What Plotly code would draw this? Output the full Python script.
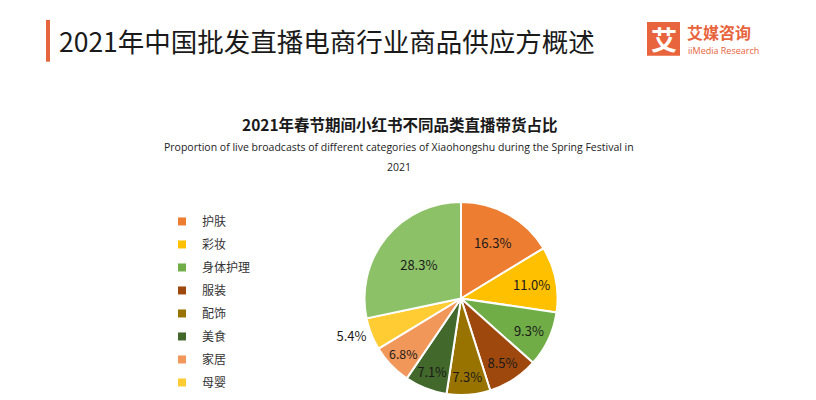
import plotly.graph_objects as go

# ---- data ----
categories = ["护肤", "彩妆", "身体护理", "服装", "配饰", "美食", "家居", "母婴", "其他"]
shares = [16.3, 11.0, 9.3, 8.5, 7.3, 7.1, 6.8, 5.4, 28.3]
legend_items = ["护肤", "彩妆", "身体护理", "服装", "配饰", "美食", "家居", "母婴"]
colors = ["#ED7D31", "#FFC000", "#70AD47", "#9E480E", "#997300",
          "#43682B", "#F1975A", "#FFCD33", "#8CC168"]
text_positions = ["inside"] * 7 + ["outside", "inside"]

main_title = "2021年中国批发直播电商行业商品供应方概述"
chart_title = "2021年春节期间小红书不同品类直播带货占比"
chart_subtitle_1 = "Proportion of live broadcasts of different categories of Xiaohongshu during the Spring Festival in"
chart_subtitle_2 = "2021"

CJK = "Noto Sans CJK SC"
W, H = 816, 400

fig = go.Figure()

cx, cy, r = 461, 300, 97
fig.add_trace(go.Pie(
    labels=categories, values=shares, sort=False, direction="clockwise",
    rotation=0,
    marker=dict(colors=colors, line=dict(color="white", width=2)),
    texttemplate="%{value:.1f}%", textposition=text_positions,
    insidetextorientation="horizontal",
    textfont=dict(family=CJK, size=13, color="#1a1a1a"),
    showlegend=False, hoverinfo="label+percent",
    domain=dict(x=[(cx - r) / W, (cx + r) / W], y=[1 - (cy + r) / H, 1 - (cy - r) / H]),
))

for i, name in enumerate(legend_items):
    fig.add_trace(go.Scatter(
        x=[None], y=[None], mode="markers", name=name,
        marker=dict(symbol="square", size=8, color=colors[i]),
        legendgroup=f"g{i}", showlegend=True,
    ))

fig.update_layout(
    width=W, height=H, margin=dict(l=0, r=0, t=0, b=0),
    paper_bgcolor="white", plot_bgcolor="white",
    xaxis=dict(visible=False), yaxis=dict(visible=False),
    legend=dict(x=162 / W, y=1 - 208 / H, xanchor="left", yanchor="top",
                font=dict(family=CJK, size=12, color="#333"),
                tracegroupgap=4, itemwidth=30, bgcolor="rgba(0,0,0,0)"),
    font=dict(family=CJK),
)

# header bar
fig.add_shape(type="rect", xref="paper", yref="paper",
              x0=46 / W, x1=50 / W, y0=1 - 62 / H, y1=1 - 20 / H,
              fillcolor="#E8643C", line=dict(width=0))
fig.add_annotation(text=main_title, xref="paper", yref="paper",
                   x=57 / W, y=1 - 41 / H, xanchor="left", yanchor="middle",
                   showarrow=False, font=dict(family=CJK, size=26.5, color="#1a1a1a"))
# logo
fig.add_shape(type="rect", xref="paper", yref="paper",
              x0=647 / W, x1=680 / W, y0=1 - 56 / H, y1=1 - 22 / H,
              fillcolor="#E8643C", line=dict(width=0))
fig.add_annotation(text="<b>艾</b>", xref="paper", yref="paper",
                   x=663.5 / W, y=1 - 39 / H, xanchor="center", yanchor="middle",
                   showarrow=False, font=dict(family=CJK, size=26, color="white"))
fig.add_annotation(text="<b>艾媒咨询</b>", xref="paper", yref="paper",
                   x=685 / W, y=1 - 32 / H, xanchor="left", yanchor="middle",
                   showarrow=False, font=dict(family=CJK, size=16, color="#E8643C"))
fig.add_annotation(text="iiMedia Research", xref="paper", yref="paper",
                   x=686 / W, y=1 - 51 / H, xanchor="left", yanchor="middle",
                   showarrow=False, font=dict(family="Open Sans", size=9, color="#E8643C"))

# chart titles
fig.add_annotation(text="<b>" + chart_title + "</b>", xref="paper", yref="paper",
                   x=400 / W, y=1 - 125 / H, xanchor="center", yanchor="middle",
                   showarrow=False, font=dict(family=CJK, size=15.5, color="#1a1a1a"))
fig.add_annotation(text=chart_subtitle_1, xref="paper", yref="paper",
                   x=399 / W, y=1 - 148 / H, xanchor="center", yanchor="middle",
                   showarrow=False, font=dict(family="Open Sans", size=10.5, color="#222"))
fig.add_annotation(text=chart_subtitle_2, xref="paper", yref="paper",
                   x=399 / W, y=1 - 168 / H, xanchor="center", yanchor="middle",
                   showarrow=False, font=dict(family="Open Sans", size=10.5, color="#222"))

fig.write_html("out.html", config={"displayModeBar": False},
               post_script="document.body.style.margin='0';")
